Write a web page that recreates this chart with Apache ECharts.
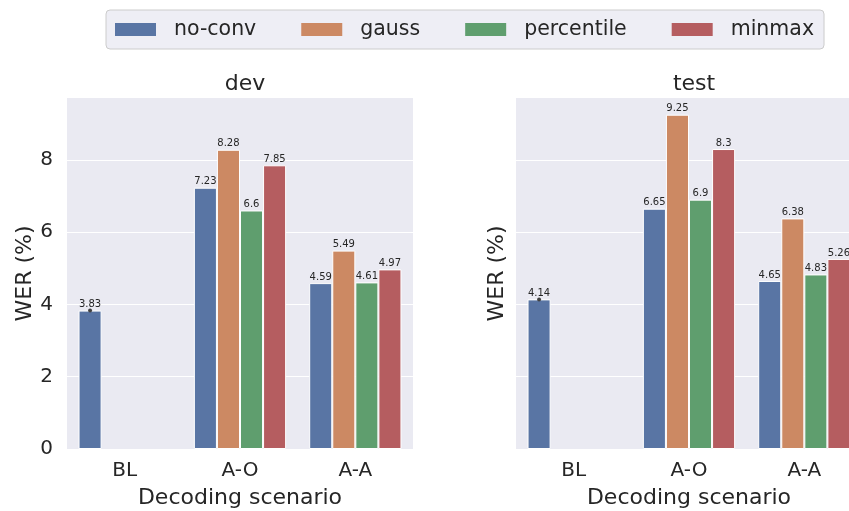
<!DOCTYPE html>
<html>
<head>
<meta charset="utf-8">
<script src="https://cdn.jsdelivr.net/npm/echarts@6/dist/echarts.min.js"></script>
<style>
  html, body { margin: 0; padding: 0; background: #fff; }
  #main { width: 849px; height: 511px; }
</style>
</head>
<body>
<div id="main"></div>
<script>
var categories = ['BL', 'A-O', 'A-A'];
var seriesNames = ['no-conv', 'gauss', 'percentile', 'minmax'];
var colors = ['#5975a4', '#cc8963', '#5f9e6e', '#b55d60'];

// dev panel
var devNoConv = [3.83, 7.23, 4.59];
var devGauss = [null, 8.28, 5.49];
var devPercentile = [null, 6.6, 4.61];
var devMinmax = [null, 7.85, 4.97];

// test panel
var testNoConv = [4.14, 6.65, 4.65];
var testGauss = [null, 9.25, 6.38];
var testPercentile = [null, 6.9, 4.83];
var testMinmax = [null, 8.3, 5.26];

var yTicks = [0, 2, 4, 6, 8];
var yMax = 9.7125;

var font = 'DejaVu Sans';
var ink = '#262626';

function makeBar(name, data, idx, color){
	var s = {
		name: name,
		type: 'bar',
		xAxisIndex: idx,
		yAxisIndex: idx,
		data: data,
		barGap: 0,
		barCategoryGap: '20%',
		itemStyle: { color: color, borderColor: '#fff', borderWidth: 1 },
		label: {
			show: true,
			position: 'top',
			distance: 1,
			fontFamily: font,
			fontSize: 10,
			color: ink,
			formatter: function(p){ return p.value == null ? '' : String(p.value); }
		}
	};
	return s;
}

function addDot(s, val){
	// tiny error-bar mark on top of the single BL bar
	s.markPoint = {
		symbol: 'circle',
		symbolSize: 4,
		silent: true,
		itemStyle: { color: '#424242' },
		label: { show: false },
		data: [{ coord: [0, val] }]
	};
	return s;
}

var devData = [devNoConv, devGauss, devPercentile, devMinmax];
var testData = [testNoConv, testGauss, testPercentile, testMinmax];
var series = [];
for (var i = 0; i < 4; i++) {
	var s = makeBar(seriesNames[i], devData[i], 0, colors[i]);
	if (i == 0) addDot(s, devNoConv[0]);
	series.push(s);
}
for (var i = 0; i < 4; i++) {
	var s = makeBar(seriesNames[i], testData[i], 1, colors[i]);
	if (i == 0) addDot(s, testNoConv[0]);
	series.push(s);
}

function xAxis(idx){
	return {
		type: 'category',
		gridIndex: idx,
		data: categories,
		name: 'Decoding scenario',
		nameLocation: 'middle',
		nameGap: 38,
		nameTextStyle: { fontFamily: font, fontSize: 22, color: ink },
		axisLine: { show: false },
		axisTick: { show: false },
		axisLabel: { fontFamily: font, fontSize: 20, color: ink, margin: 12 },
		splitLine: { show: false }
	};
}

function yAxis(idx, showLabels){
	return {
		type: 'value',
		gridIndex: idx,
		min: 0,
		max: yMax,
		interval: 2,
		name: 'WER (%)',
		nameLocation: 'middle',
		nameGap: showLabels ? 31 : 8,
		nameTextStyle: { fontFamily: font, fontSize: 22, color: ink },
		axisLine: { show: false },
		axisTick: { show: false },
		axisLabel: {
			show: showLabels,
			fontFamily: font, fontSize: 20, color: ink, margin: 14,
			showMaxLabel: false,
			formatter: function(v){ return yTicks.indexOf(v) >= 0 ? String(v) : ''; }
		},
		splitLine: { show: true, showMinLine: false, showMaxLine: false, lineStyle: { color: '#ffffff', width: 1.2 } }
	};
}

var myChart = echarts.init(document.getElementById('main'), null, { renderer: 'canvas' });
var option = {
	backgroundColor: '#ffffff',
	animation: false,
	textStyle: { fontFamily: font },
	title: [
		{ text: 'dev', left: 240, top: 68, textAlign: 'center',
		  textStyle: { fontFamily: font, fontSize: 22, fontWeight: 'normal', color: ink } },
		{ text: 'test', left: 689, top: 68, textAlign: 'center',
		  textStyle: { fontFamily: font, fontSize: 22, fontWeight: 'normal', color: ink } }
	],
	legend: {
		data: seriesNames,
		left: 106,
		top: 10,
		padding: [9, 10, 9, 9],
		itemWidth: 41,
		itemHeight: 13,
		itemGap: 45,
		backgroundColor: '#eeeef5',
		borderColor: '#cccccc',
		borderWidth: 1,
		borderRadius: 4,
		icon: 'rect',
		itemStyle: { borderWidth: 0 },
		textStyle: { fontFamily: font, fontSize: 20.5, color: ink, padding: [0, 0, 0, 13] }
	},
	grid: [
		{ left: 67, top: 98, width: 346, height: 351, show: true, backgroundColor: '#eaeaf2', borderWidth: 0,
		  containLabel: false, outerBoundsMode: 'none' },
		{ left: 516, top: 98, width: 346, height: 351, show: true, backgroundColor: '#eaeaf2', borderWidth: 0,
		  containLabel: false, outerBoundsMode: 'none' }
	],
	xAxis: [xAxis(0), xAxis(1)],
	yAxis: [yAxis(0, true), yAxis(1, false)],
	series: series
};
myChart.setOption(option);
</script>
</body>
</html>
